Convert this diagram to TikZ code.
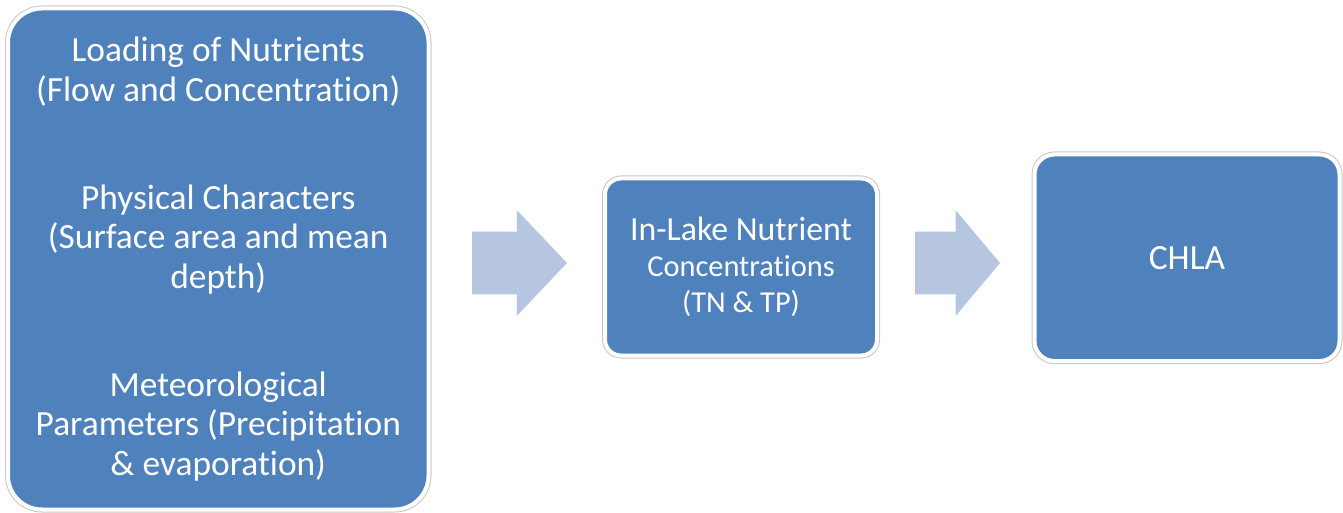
\documentclass[tikz,border=0pt]{standalone}
\usepackage{fontspec}
\setmainfont{Carlito}[Ligatures=NoCommon]
\usepackage{xcolor}
\usetikzlibrary{shapes.arrows}

\definecolor{boxblue}{HTML}{4F81BD}
\definecolor{arrowblue}{HTML}{B6C6E0}

\begin{document}
\begin{tikzpicture}[x=0.5pt,y=-0.5pt,
	bluebox/.style={fill=boxblue, draw=white, line width=2pt, preaction={draw=black!22, line width=3pt},
		text=white, align=center, inner sep=0pt, outer sep=0pt},
	blockarrow/.style={single arrow, fill=arrowblue, draw=none, inner xsep=0pt, inner ysep=15.5pt,
		single arrow head extend=10.75pt, outer sep=0pt}]
% pixel grid of the reference: x to the right, y downwards
\useasboundingbox (0,0) rectangle (1343,513);

\node[bluebox, minimum width=210.25pt, minimum height=250.5pt, rounded corners=17pt,
	font=\fontsize{17.7}{19.75}\selectfont] (load) at (218.25,259)
	{Loading of Nutrients\\(Flow and Concentration)\\[34.25pt]
	 Physical Characters\\(Surface area and mean\\depth)\\[34.25pt]
	 Meteorological\\Parameters (Precipitation\\\& evaporation)};

\node[bluebox, minimum width=136pt, minimum height=88.5pt, rounded corners=8pt,
	font=\fontsize{15.2}{18}\selectfont] (lake) at (741,267)
	{{\fontsize{16.9}{18}\selectfont In-Lake Nutrient}\\
	 Concentrations\\
	 (TN \& TP)};

\node[bluebox, minimum width=152.5pt, minimum height=103.25pt, rounded corners=10pt,
	font=\fontsize{17.7}{20}\selectfont] (chla) at (1187,257.75) {CHLA};

\node[blockarrow, minimum height=47.5pt, single arrow tip angle=93, anchor=tail] (arrA) at (472,263) {};
\node[blockarrow, minimum height=42.5pt, single arrow tip angle=100, anchor=tail] (arrB) at (915,263) {};

\end{tikzpicture}
\end{document}
